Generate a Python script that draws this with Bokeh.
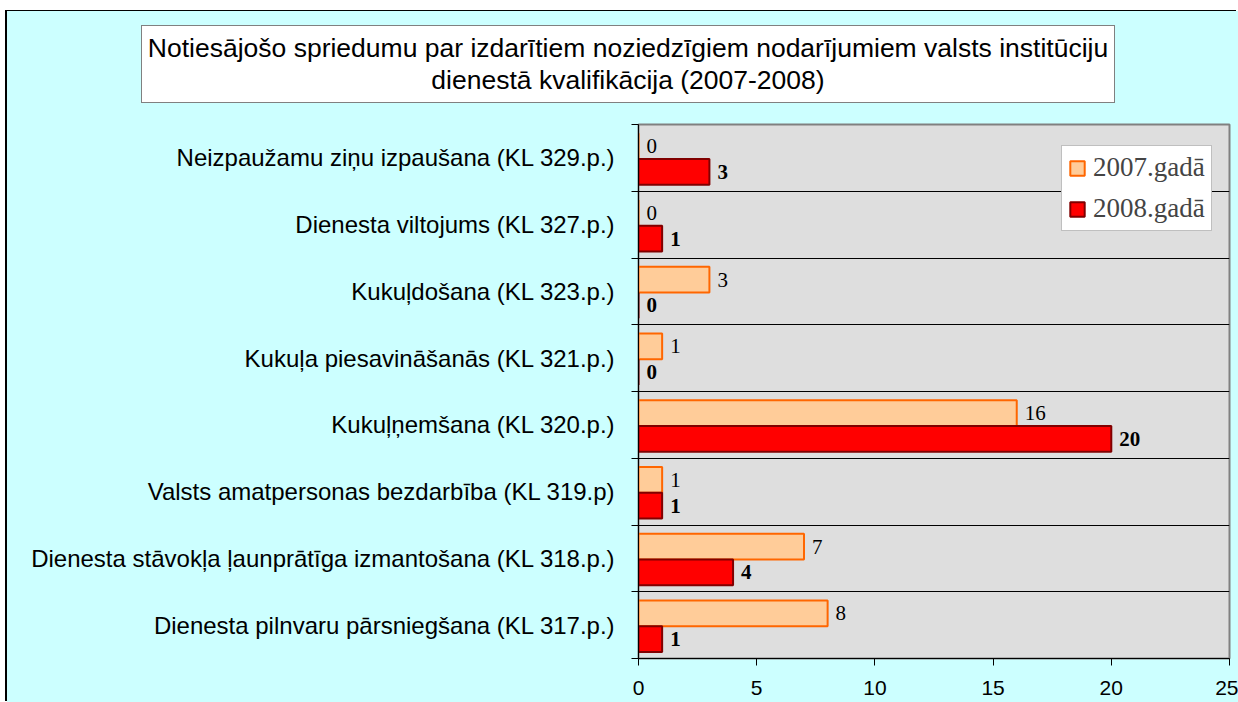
from bokeh.plotting import figure
from bokeh.layouts import column
from bokeh.models import (ColumnDataSource, Range1d, FixedTicker, Legend, LegendItem, Div)
from bokeh.core.properties import value
from bokeh.embed import file_html
from bokeh.resources import INLINE

# ---- data (bottom -> top) ----
categories = [
    "Dienesta pilnvaru pārsniegšana (KL 317.p.)",
    "Dienesta stāvokļa ļaunprātīga izmantošana (KL 318.p.)",
    "Valsts amatpersonas bezdarbība (KL 319.p)",
    "Kukuļņemšana (KL 320.p.)",
    "Kukuļa piesavināšanās (KL 321.p.)",
    "Kukuļdošana (KL 323.p.)",
    "Dienesta viltojums (KL 327.p.)",
    "Neizpaužamu ziņu izpaušana (KL 329.p.)",
]
values_2007 = [8, 7, 1, 16, 1, 3, 0, 0]
values_2008 = [1, 4, 1, 20, 0, 0, 1, 3]
series_names = ["2007.gadā", "2008.gadā"]
x_ticks = [0, 5, 10, 15, 20, 25]
title_lines = ["Notiesājošo spriedumu par izdarītiem noziedzīgiem nodarījumiem valsts institūciju",
               "dienestā kvalifikācija (2007-2008)"]

SANS = "Liberation Sans"
SERIF = "Liberation Serif"
BG = "#CCFFFF"

n = len(categories)
idx = list(range(n))
src07 = ColumnDataSource(dict(y=[i + 0.675 for i in idx], v=values_2007,
                              lbl=[str(v) for v in values_2007]))
src08 = ColumnDataSource(dict(y=[i + 0.29 for i in idx], v=values_2008,
                              lbl=[str(v) for v in values_2008]))

# ---- title strip ----
title_html = (
    '<div style="position:relative;width:1231px;height:105px;background:%s;">'
    '<div style="position:absolute;left:134px;top:14px;width:974px;height:78px;'
    'box-sizing:border-box;background:white;border:1px solid #808080;'
    'font-family:\'Liberation Sans\';font-size:26.5px;line-height:32px;color:black;'
    'text-align:center;white-space:nowrap;padding-top:6px;">%s<br>%s</div></div>'
) % (BG, title_lines[0], title_lines[1])
head = Div(text=title_html, width=1231, height=105,
           styles={"background-color": BG, "margin": "0", "padding": "0"})

# ---- main chart ----
p = figure(width=1231, height=586, output_backend="svg", toolbar_location=None,
           x_range=Range1d(0, 25), y_range=Range1d(0, n),
           min_border_left=631, min_border_right=9, min_border_top=8, min_border_bottom=44)

p.border_fill_color = BG
p.background_fill_color = "#DEDEDE"
p.outline_line_color = "#808080"
p.outline_line_width = 2

r07 = p.hbar(y="y", right="v", left=0, height=0.385, source=src07,
             fill_color="#FFCC99", line_color="#FF6600", line_width=2)
r08 = p.hbar(y="y", right="v", left=0, height=0.385, source=src08,
             fill_color="#FF0000", line_color="#800000", line_width=2)

p.text(x="v", y="y", text="lbl", source=src07, x_offset=8,
       text_align="left", text_baseline="middle",
       text_font=value(SERIF), text_font_size="21px", text_color="black")
p.text(x="v", y="y", text="lbl", source=src08, x_offset=8,
       text_align="left", text_baseline="middle",
       text_font=value(SERIF), text_font_size="21px", text_font_style="bold",
       text_color="black")

# x axis
xa = p.xaxis[0]
xa.ticker = FixedTicker(ticks=x_ticks)
xa.axis_line_color = "black"
xa.major_tick_out = 7
xa.major_tick_in = 0
xa.minor_tick_line_color = None
xa.major_label_standoff = 15
xa.major_label_text_font = SANS
xa.major_label_text_font_size = "21px"
xa.major_label_text_color = "black"

# y axis
ya = p.yaxis[0]
ya.ticker = FixedTicker(ticks=[i + 0.5 for i in idx], minor_ticks=list(range(n + 1)))
ya.major_label_overrides = {i + 0.5: categories[i] for i in idx}
ya.axis_line_color = "black"
ya.major_tick_in = 0
ya.major_tick_out = 0
ya.minor_tick_in = 0
ya.minor_tick_out = 7
ya.minor_tick_line_color = "black"
ya.major_label_standoff = 16
ya.major_label_text_font = SANS
ya.major_label_text_font_size = "24px"
ya.major_label_text_color = "black"

p.xgrid.grid_line_color = None
p.ygrid.grid_line_color = None
p.ygrid.minor_grid_line_color = "black"
p.ygrid.minor_grid_line_width = 1

legend = Legend(items=[LegendItem(label=series_names[0], renderers=[r07]),
                       LegendItem(label=series_names[1], renderers=[r08])],
                location=(423, 427), orientation="vertical",
                label_text_font=SERIF, label_text_font_size="27px",
                label_height=27, glyph_height=18, glyph_width=18,
                label_standoff=7, spacing=10, padding=6, margin=0,
                border_line_color="#808080", border_line_width=1,
                background_fill_color="white", background_fill_alpha=1)
p.add_layout(legend, "center")

layout = column(head, p, spacing=0,
                styles={"margin-left": "7px", "margin-top": "11px",
                        "box-shadow": "-2px -1px 0 0 black",
                        "background-color": BG})

open("out.html", "w").write(file_html(layout, INLINE))
